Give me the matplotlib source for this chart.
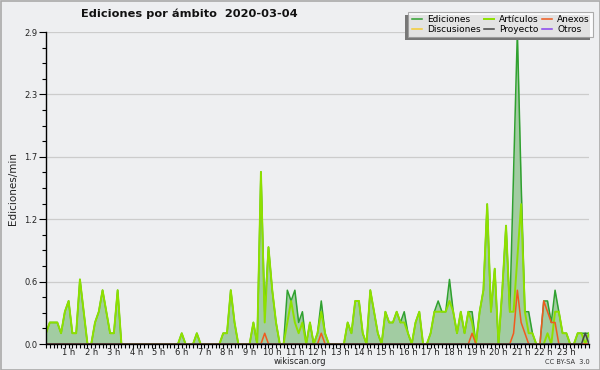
import matplotlib
matplotlib.use("Agg")
import matplotlib.pyplot as plt
from matplotlib.patches import Rectangle
from matplotlib.ticker import MultipleLocator, FixedLocator

# ---- data: edits per minute, 10-minute buckets (0 h .. 24 h) ----
step_min = 10
ediciones = [
    0.1, 0.2, 0.2, 0.2, 0.1, 0.3,   # 0 h
    0.4, 0.1, 0.1, 0.6, 0.3, 0.0,   # 1 h
    0.0, 0.2, 0.3, 0.5, 0.3, 0.1,   # 2 h
    0.1, 0.5, 0.0, 0.0, 0.0, 0.0,   # 3 h
    0.0, 0.0, 0.0, 0.0, 0.0, 0.0,   # 4 h
    0.0, 0.0, 0.0, 0.0, 0.0, 0.0,   # 5 h
    0.1, 0.0, 0.0, 0.0, 0.1, 0.0,   # 6 h
    0.0, 0.0, 0.0, 0.0, 0.0, 0.1,   # 7 h
    0.1, 0.5, 0.2, 0.0, 0.0, 0.0,   # 8 h
    0.0, 0.2, 0.0, 1.6, 0.3, 0.9,   # 9 h
    0.5, 0.2, 0.0, 0.0, 0.5, 0.4,   # 10 h
    0.5, 0.2, 0.3, 0.0, 0.2, 0.0,   # 11 h
    0.1, 0.4, 0.1, 0.0, 0.0, 0.0,   # 12 h
    0.0, 0.0, 0.2, 0.1, 0.4, 0.4,   # 13 h
    0.1, 0.0, 0.5, 0.3, 0.1, 0.0,   # 14 h
    0.3, 0.2, 0.2, 0.3, 0.2, 0.3,   # 15 h
    0.1, 0.0, 0.2, 0.3, 0.0, 0.0,   # 16 h
    0.1, 0.3, 0.4, 0.3, 0.3, 0.6,   # 17 h
    0.3, 0.1, 0.3, 0.1, 0.3, 0.3,   # 18 h
    0.0, 0.3, 0.5, 1.3, 0.3, 0.7,   # 19 h
    0.0, 0.5, 1.1, 0.3, 1.6, 2.9,   # 20 h
    1.5, 0.3, 0.3, 0.1, 0.0, 0.0,   # 21 h
    0.4, 0.4, 0.2, 0.5, 0.3, 0.1,   # 22 h
    0.1, 0.0, 0.0, 0.1, 0.1, 0.1,   # 23 h
    0.1,
]
articulos = [
    0.1, 0.2, 0.2, 0.2, 0.1, 0.3,
    0.4, 0.1, 0.1, 0.6, 0.3, 0.0,
    0.0, 0.2, 0.3, 0.5, 0.3, 0.1,
    0.1, 0.5, 0.0, 0.0, 0.0, 0.0,
    0.0, 0.0, 0.0, 0.0, 0.0, 0.0,
    0.0, 0.0, 0.0, 0.0, 0.0, 0.0,
    0.1, 0.0, 0.0, 0.0, 0.1, 0.0,
    0.0, 0.0, 0.0, 0.0, 0.0, 0.1,
    0.1, 0.5, 0.2, 0.0, 0.0, 0.0,
    0.0, 0.2, 0.0, 1.6, 0.2, 0.9,
    0.5, 0.2, 0.0, 0.0, 0.2, 0.4,
    0.2, 0.1, 0.2, 0.0, 0.2, 0.0,
    0.1, 0.3, 0.1, 0.0, 0.0, 0.0,
    0.0, 0.0, 0.2, 0.1, 0.4, 0.4,
    0.1, 0.0, 0.5, 0.3, 0.1, 0.0,
    0.3, 0.2, 0.2, 0.3, 0.2, 0.2,
    0.1, 0.0, 0.2, 0.3, 0.0, 0.0,
    0.1, 0.3, 0.3, 0.3, 0.3, 0.4,
    0.3, 0.1, 0.3, 0.1, 0.3, 0.2,
    0.0, 0.3, 0.5, 1.3, 0.3, 0.7,
    0.0, 0.5, 1.1, 0.3, 0.3, 0.8,
    1.3, 0.3, 0.1, 0.1, 0.0, 0.0,
    0.0, 0.1, 0.0, 0.3, 0.3, 0.1,
    0.1, 0.0, 0.0, 0.1, 0.1, 0.0,
    0.1,
]
anexos = [0.0] * 58 + [0.1] + [0.0] * 14 + [0.1] + [0.0] * 39 + [0.1] + \
    [0.0] * 10 + [0.1, 0.5, 0.2, 0.1] + [0.0] * 4 + [0.4, 0.3, 0.2, 0.2] + [0.0] * 9
proyecto = [0.0] * 143 + [0.1, 0.0]
discusiones = [0.0] * 145
otros = [0.0] * 145

hour_labels = ["%d h" % h for h in range(1, 24)]
ytick_values = [0.0, 0.58, 1.16, 1.74, 2.32, 2.9]
ytick_labels = ["0.0", "0.6", "1.2", "1.7", "2.3", "2.9"]

title = "Ediciones por ámbito  2020-03-04"
series = [
    ("Ediciones", ediciones, "#2fa12f"),
    ("Artículos", articulos, "#8ee000"),
    ("Anexos", anexos, "#f05a1e"),
    ("Discusiones", discusiones, "#f5cc33"),
    ("Proyecto", proyecto, "#444444"),
    ("Otros", otros, "#8844ee"),
]

BG = "#eeeff1"
x = [i * step_min for i in range(len(ediciones))]

fig = plt.figure(figsize=(6.0, 3.7), dpi=100, facecolor=BG)
ax = fig.add_axes([46 / 600, 1 - 344 / 370, 543 / 600, 312 / 370])
ax.set_facecolor(BG)

ax.fill_between(x, ediciones, 0, color="#a2cca2", lw=0, zorder=1)
lines = {}
for name, vals, col in series:
    lw = 1.4 if name == "Artículos" else 1.1
    z = {"Ediciones": 3, "Artículos": 4, "Anexos": 5, "Proyecto": 5,
         "Discusiones": 2, "Otros": 2}[name]
    (ln,) = ax.plot(x, vals, color=col, lw=lw, zorder=z, label=name)
    lines[name] = ln

ax.set_xlim(0, 24 * 60)
ax.set_ylim(0, 2.9)

for s in ("top", "right"):
    ax.spines[s].set_visible(False)
for s in ("left", "bottom"):
    ax.spines[s].set_color("black")
    ax.spines[s].set_linewidth(1.0)
    ax.spines[s].set_zorder(6)

ax.yaxis.set_major_locator(FixedLocator(ytick_values))
ax.set_yticklabels(ytick_labels, fontsize=6, color="#222222")
ax.yaxis.set_minor_locator(MultipleLocator(2.9 / 20))
ax.tick_params(axis="y", which="major", length=5, width=0.8, pad=1)
ax.tick_params(axis="y", which="minor", length=3, width=0.8)
for v in ytick_values[1:]:
    ax.axhline(v, color="#cccccc", lw=0.9, zorder=0.5)

ax.xaxis.set_major_locator(FixedLocator([(i + 1) * 60 for i in range(len(hour_labels))]))
ax.set_xticklabels(hour_labels, fontsize=6, color="#222222")
ax.xaxis.set_minor_locator(MultipleLocator(step_min))
ax.tick_params(axis="x", which="both", length=3, width=0.8, pad=0, direction="out")

ax.set_ylabel("Ediciones/min", fontsize=7.5, color="#222222")
ax.yaxis.set_label_coords(-28 / 543, 0.5)

fig.text(189 / 600, 1 - 14 / 370, title, ha="center", va="center",
         fontsize=8.2, fontweight="bold", color="#111111")
fig.text(300 / 600, 1 - 362 / 370, "wikiscan.org", ha="center", va="center",
         fontsize=6, color="#222222")
fig.text(590 / 600, 1 - 362.5 / 370, "CC BY-SA  3.0", ha="right", va="center",
         fontsize=4.8, color="#333333")

order = ["Ediciones", "Discusiones", "Artículos", "Proyecto", "Anexos", "Otros"]
leg = fig.legend([lines[n] for n in order], order, ncol=3,
                 loc="upper right", bbox_to_anchor=(593 / 600, 1 - 12 / 370),
                 fontsize=6.5, frameon=True, fancybox=False, shadow=False,
                 handlelength=1.1, handletextpad=0.6, columnspacing=0.35,
                 labelspacing=0.12, borderpad=0.35, borderaxespad=0.0)
leg.get_frame().set_edgecolor("#999999")
leg.get_frame().set_linewidth(0.8)
leg.get_frame().set_facecolor("white")
leg.set_zorder(10)

fig.canvas.draw()
bb = leg.get_window_extent().transformed(fig.transFigure.inverted())
fig.patches.append(Rectangle((bb.x0 - 3 / 600, bb.y0 - 3 / 370), bb.width, bb.height,
                             transform=fig.transFigure, facecolor="#777777",
                             edgecolor="none", zorder=9))
fig.patches.append(Rectangle((0.5 / 600, 0.5 / 370), 599 / 600, 369 / 370,
                             transform=fig.transFigure, facecolor="none",
                             edgecolor="#aaaaaa", lw=1.2, zorder=20))

fig.savefig("out.png", dpi=100, facecolor=BG)
